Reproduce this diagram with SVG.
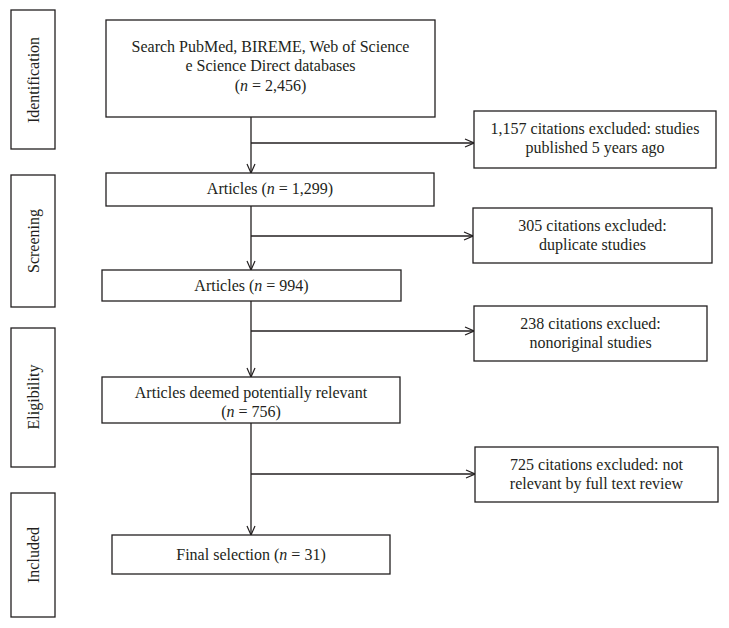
<svg xmlns="http://www.w3.org/2000/svg" width="729" height="628" viewBox="0 0 729 628">
<style>
.box{fill:#fff;stroke:#231f20;stroke-width:1.3}
.t{font-family:"Liberation Serif","Times New Roman",serif;font-size:16px;fill:#231f20;text-anchor:middle}
.c{fill:none;stroke:#231f20;stroke-width:1.3}
</style>
<defs>
<marker id="ah" viewBox="0 0 10 10" refX="10" refY="5" markerWidth="10" markerHeight="10" markerUnits="userSpaceOnUse" orient="auto">
<path d="M1,1 L10,5 L1,9" fill="none" stroke="#231f20" stroke-width="1.2"/>
</marker>
</defs>
<rect width="729" height="628" fill="#fff"/>
<g id="stage-identification">
<rect class="box" x="11" y="10" width="44" height="139"/>
<text class="t" transform="translate(39,80) rotate(-90)">Identification</text>
</g>
<g id="stage-screening">
<rect class="box" x="11" y="175" width="44" height="132"/>
<text class="t" transform="translate(39,241) rotate(-90)">Screening</text>
</g>
<g id="stage-eligibility">
<rect class="box" x="11" y="328" width="44" height="139"/>
<text class="t" transform="translate(39,397) rotate(-90)">Eligibility</text>
</g>
<g id="stage-included">
<rect class="box" x="11" y="493" width="44" height="124"/>
<text class="t" transform="translate(39,555) rotate(-90)">Included</text>
</g>
<g id="connectors">
<line class="c" x1="251" y1="117" x2="251" y2="173" marker-end="url(#ah)"/>
<line class="c" x1="251" y1="143" x2="474" y2="143" marker-end="url(#ah)"/>
<line class="c" x1="251" y1="206" x2="251" y2="270" marker-end="url(#ah)"/>
<line class="c" x1="251" y1="236" x2="473" y2="236" marker-end="url(#ah)"/>
<line class="c" x1="251" y1="301" x2="251" y2="377" marker-end="url(#ah)"/>
<line class="c" x1="251" y1="331" x2="474" y2="331" marker-end="url(#ah)"/>
<line class="c" x1="251" y1="423" x2="251" y2="535" marker-end="url(#ah)"/>
<line class="c" x1="251" y1="474" x2="475" y2="474" marker-end="url(#ah)"/>
</g>
<g id="search">
<rect class="box" x="106" y="20" width="329" height="97"/>
<text class="t" x="270.5" y="52">Search PubMed, BIREME, Web of Science</text>
<text class="t" x="270.5" y="71">e Science Direct databases</text>
<text class="t" x="270.5" y="91">(<tspan font-style="italic">n</tspan> = 2,456)</text>
</g>
<g id="excl1">
<rect class="box" x="474" y="111" width="242" height="57"/>
<text class="t" x="595" y="134">1,157 citations excluded: studies</text>
<text class="t" x="595" y="153">published 5 years ago</text>
</g>
<g id="articles1299">
<rect class="box" x="106" y="173" width="328" height="33"/>
<text class="t" x="270" y="194">Articles (<tspan font-style="italic">n</tspan> = 1,299)</text>
</g>
<g id="excl2">
<rect class="box" x="473" y="208" width="239" height="55"/>
<text class="t" x="592.5" y="231">305 citations excluded:</text>
<text class="t" x="592.5" y="250">duplicate studies</text>
</g>
<g id="articles994">
<rect class="box" x="102" y="270" width="299" height="31"/>
<text class="t" x="251.5" y="291">Articles (<tspan font-style="italic">n</tspan> = 994)</text>
</g>
<g id="excl3">
<rect class="box" x="474" y="306" width="233" height="55"/>
<text class="t" x="590.5" y="329">238 citations exclued:</text>
<text class="t" x="590.5" y="348">nonoriginal studies</text>
</g>
<g id="relevant">
<rect class="box" x="102" y="377" width="298" height="46"/>
<text class="t" x="251" y="398">Articles deemed potentially relevant</text>
<text class="t" x="251" y="417">(<tspan font-style="italic">n</tspan> = 756)</text>
</g>
<g id="excl4">
<rect class="box" x="475" y="447" width="243" height="55"/>
<text class="t" x="596.5" y="470">725 citations excluded: not</text>
<text class="t" x="596.5" y="489">relevant by full text review</text>
</g>
<g id="final">
<rect class="box" x="112" y="535" width="278" height="39"/>
<text class="t" x="251" y="560">Final selection (<tspan font-style="italic">n</tspan> = 31)</text>
</g>
</svg>
